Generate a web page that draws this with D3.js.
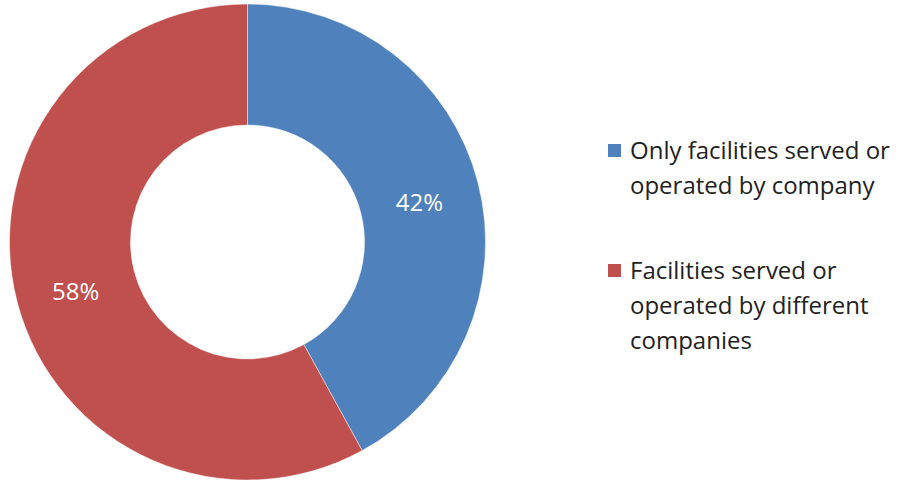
<!DOCTYPE html>
<html>
<head>
<meta charset="utf-8">
<script src="https://cdn.jsdelivr.net/npm/d3@7"></script>
<style>
  html, body { margin: 0; padding: 0; background: #fff; }
  svg text { font-family: "Open Sans", "Lato", sans-serif; font-variant-ligatures: none; }
</style>
</head>
<body>
<svg id="chart" width="902" height="482"></svg>
<script>
// Share of facilities by who serves or operates them
const categories = ["Only facilities served or operated by company", "Facilities served or operated by different companies"];
const legendLines = [["Only facilities served or", "operated by company"], ["Facilities served or", "operated by different", "companies"]];
const values = [42, 58];
const colors = ["#4F81BD", "#C0504D"];

const svg = d3.select("#chart");
const cx = 247.5, cy = 242, outerR = 238, innerR = 117;
const fontSize = 24;

const pie = d3.pie().sort(null).value(d => d)(values);
const arc = d3.arc().innerRadius(innerR).outerRadius(outerR);
const labelArc = d3.arc().innerRadius((innerR + outerR) / 2).outerRadius((innerR + outerR) / 2);

const g = svg.append("g").attr("transform", `translate(${cx},${cy})`);

g.selectAll("path.slice")
  .data(pie)
  .join("path")
  .attr("class", "slice")
  .attr("d", arc)
  .attr("fill", (d, i) => colors[i])
  .attr("stroke", "rgba(255,255,255,0.45)")
  .attr("stroke-width", 1);

g.selectAll("text.pct")
  .data(pie)
  .join("text")
  .attr("class", "pct")
  .attr("transform", d => { const [x, y] = labelArc.centroid(d); return `translate(${x},${y + 5})`; })
  .attr("text-anchor", "middle")
  .attr("dy", "0.36em")
  .attr("fill", "#fff")
  .attr("font-size", fontSize)
  .text(d => d.data + "%");

// Legend
const legend = svg.append("g");
const lineH = 35;
const groupTops = [159, 279];
legendLines.forEach((lines, i) => {
  legend.append("rect")
    .attr("x", 608).attr("y", groupTops[i] - 15)
    .attr("width", 13).attr("height", 13)
    .attr("fill", colors[i]);
  const t = legend.append("text")
    .attr("x", 630).attr("y", groupTops[i])
    .attr("font-size", fontSize)
    .attr("fill", "#222");
  lines.forEach((ln, j) => {
    t.append("tspan").attr("x", 630).attr("y", groupTops[i] + j * lineH).text(ln);
  });
});
</script>
</body>
</html>
